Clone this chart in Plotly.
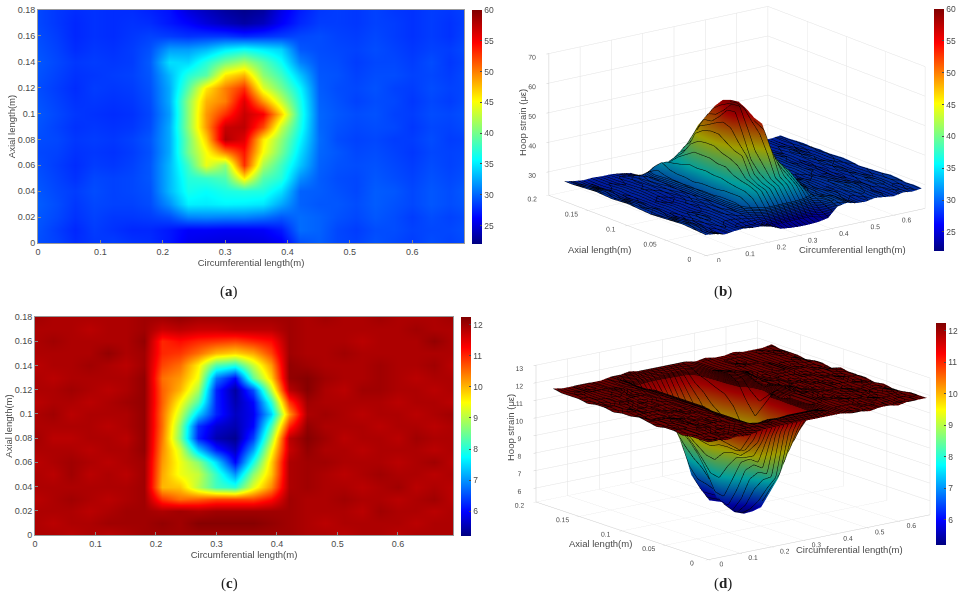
import plotly.graph_objects as go

circ_length = [0.00, 0.03, 0.06, 0.09, 0.12, 0.15, 0.18, 0.21, 0.24, 0.27, 0.30, 0.33,
               0.36, 0.39, 0.42, 0.45, 0.48, 0.51, 0.54, 0.57, 0.60, 0.63, 0.66, 0.69]
axial_length = [0.00, 0.01, 0.02, 0.03, 0.04, 0.05, 0.06, 0.07, 0.08, 0.09,
                0.10, 0.11, 0.12, 0.13, 0.14, 0.15, 0.16, 0.17, 0.18]

# hoop strain, one row per axial station, first row at axial length 0
strain_top = [
    [29.0, 28.6, 27.8, 28.2, 28.4, 28.0, 27.8, 27.0, 25.6, 25.2, 25.0, 25.0, 25.2, 25.8, 29.0, 29.6, 28.8, 28.6, 29.2, 28.8, 28.4, 29.0, 28.6, 29.0],
    [29.2, 28.4, 27.6, 28.4, 28.0, 27.6, 27.6, 27.0, 26.0, 26.0, 25.8, 25.8, 26.0, 27.0, 30.2, 29.8, 28.8, 28.4, 29.0, 29.0, 28.6, 28.8, 28.8, 29.2],
    [29.4, 28.8, 28.0, 28.6, 28.2, 28.2, 28.4, 29.0, 31.0, 31.2, 31.0, 31.0, 30.4, 29.4, 30.2, 29.8, 29.2, 28.8, 29.4, 29.0, 28.4, 29.0, 28.6, 29.0],
    [29.6, 29.0, 28.2, 28.8, 28.6, 28.6, 29.0, 31.5, 35.2, 35.0, 35.4, 35.2, 34.8, 32.4, 29.8, 29.4, 29.4, 29.0, 29.6, 29.2, 28.8, 29.4, 29.0, 29.4],
    [29.4, 28.8, 28.4, 29.0, 28.6, 28.8, 29.2, 33.0, 36.4, 35.8, 36.6, 37.0, 36.8, 34.6, 29.8, 29.6, 29.2, 28.8, 29.6, 29.4, 28.8, 29.4, 29.0, 29.6],
    [29.2, 28.6, 28.0, 28.8, 28.6, 28.8, 29.4, 33.0, 37.0, 37.6, 38.6, 45.8, 38.8, 37.0, 31.5, 29.6, 29.0, 28.8, 29.4, 29.0, 28.6, 29.2, 28.8, 29.2],
    [29.0, 28.4, 27.8, 28.4, 28.2, 28.6, 29.4, 33.0, 38.0, 44.4, 41.0, 53.0, 42.0, 38.0, 33.5, 29.8, 29.2, 29.0, 29.2, 28.8, 28.4, 29.0, 28.6, 29.0],
    [28.8, 28.6, 28.0, 28.2, 28.0, 28.4, 29.2, 32.5, 40.0, 45.0, 50.0, 54.0, 45.0, 40.0, 34.5, 30.0, 29.4, 28.8, 29.0, 28.6, 28.2, 28.8, 28.6, 28.8],
    [29.0, 28.8, 28.2, 28.4, 28.2, 28.6, 29.4, 32.5, 40.0, 47.0, 58.0, 56.0, 46.0, 41.0, 35.5, 30.2, 29.0, 28.6, 28.8, 28.4, 28.4, 29.0, 28.4, 28.6],
    [29.2, 28.6, 28.0, 28.2, 28.0, 28.2, 29.0, 32.5, 41.0, 49.0, 57.0, 57.4, 52.0, 43.0, 36.5, 30.0, 29.2, 28.8, 29.0, 28.8, 28.2, 28.8, 28.6, 29.0],
    [29.4, 28.8, 28.2, 28.0, 27.8, 28.0, 28.8, 32.0, 41.0, 49.0, 53.0, 57.0, 55.0, 47.0, 37.0, 30.0, 29.4, 29.0, 29.2, 28.6, 28.4, 29.0, 28.8, 29.2],
    [29.2, 28.6, 28.0, 28.2, 28.0, 28.2, 29.0, 32.5, 41.0, 48.0, 50.0, 56.0, 49.0, 43.0, 36.5, 29.8, 29.2, 28.6, 29.0, 28.8, 28.2, 28.8, 28.4, 29.0],
    [29.0, 28.4, 27.8, 28.4, 28.2, 28.4, 29.2, 32.5, 39.0, 46.0, 50.0, 53.0, 44.0, 40.0, 35.5, 29.6, 29.0, 28.8, 29.2, 28.6, 28.4, 29.0, 28.6, 28.8],
    [29.2, 28.6, 28.0, 28.2, 28.4, 28.6, 29.4, 33.0, 37.0, 39.0, 46.0, 48.0, 41.0, 38.0, 33.5, 29.4, 29.2, 28.6, 29.0, 29.0, 28.6, 28.8, 28.4, 29.0],
    [29.4, 28.8, 28.2, 28.4, 28.2, 28.4, 29.6, 34.5, 34.2, 37.0, 40.0, 42.0, 39.0, 36.0, 31.0, 29.2, 29.0, 28.4, 28.8, 28.8, 28.4, 29.0, 28.2, 28.8],
    [29.2, 28.6, 27.8, 28.2, 28.0, 28.4, 29.2, 32.0, 32.0, 33.0, 35.0, 36.0, 35.0, 34.0, 29.4, 29.0, 28.8, 28.6, 29.0, 28.6, 28.2, 28.6, 28.4, 29.0],
    [29.0, 28.4, 27.6, 28.0, 27.8, 28.2, 28.6, 28.4, 28.0, 28.2, 28.2, 27.6, 28.0, 28.4, 28.8, 29.0, 28.6, 28.4, 28.8, 28.4, 28.0, 28.4, 28.0, 28.8],
    [28.8, 28.2, 27.6, 28.0, 27.8, 28.0, 27.8, 27.0, 26.2, 25.0, 24.0, 23.2, 24.0, 26.0, 27.6, 28.4, 28.4, 28.2, 28.6, 28.4, 28.0, 28.4, 28.0, 28.6],
    [28.8, 28.2, 27.8, 28.0, 27.8, 27.8, 27.4, 26.8, 25.0, 24.0, 23.0, 22.4, 23.0, 25.4, 27.2, 28.2, 28.4, 28.2, 28.6, 28.2, 28.0, 28.4, 28.2, 28.6],
]

strain_bottom = [
    [11.9, 11.9, 11.8, 11.9, 11.8, 11.9, 12.0, 12.0, 12.0, 12.0, 12.0, 12.0, 12.0, 12.0, 12.0, 11.9, 11.9, 11.8, 11.9, 11.9, 11.8, 11.9, 11.9, 11.9],
    [11.9, 11.8, 11.9, 11.9, 12.0, 12.0, 12.0, 12.1, 12.0, 12.2, 12.2, 12.2, 12.2, 12.1, 12.0, 11.9, 11.8, 11.9, 11.9, 11.9, 11.9, 11.8, 11.9, 11.9],
    [11.9, 11.9, 11.9, 11.8, 11.9, 12.0, 12.0, 11.9, 12.0, 11.9, 12.0, 12.0, 12.0, 12.0, 12.0, 11.9, 11.9, 11.9, 11.8, 12.0, 11.9, 11.9, 11.8, 11.9],
    [11.8, 11.9, 12.0, 11.9, 11.8, 11.9, 12.0, 10.9, 10.5, 10.6, 10.8, 10.8, 10.8, 11.2, 12.0, 11.9, 11.9, 12.0, 11.9, 11.9, 11.8, 11.9, 12.0, 11.8],
    [11.9, 11.9, 11.9, 11.9, 11.9, 11.9, 12.0, 10.0, 9.9, 9.0, 8.2, 8.0, 9.3, 10.3, 11.9, 12.0, 11.9, 11.9, 11.8, 11.9, 12.0, 11.8, 11.9, 11.8],
    [11.9, 11.8, 12.0, 11.8, 11.9, 11.8, 12.0, 10.1, 9.4, 9.1, 8.1, 7.0, 8.7, 9.9, 11.9, 12.0, 11.9, 11.8, 11.9, 12.0, 11.9, 11.9, 11.8, 11.9],
    [11.8, 11.9, 12.0, 11.9, 11.8, 11.9, 12.0, 10.2, 9.4, 8.7, 7.5, 6.0, 7.9, 9.8, 11.9, 12.0, 12.0, 11.9, 11.9, 11.9, 11.8, 11.9, 12.0, 11.8],
    [11.9, 11.9, 11.9, 11.8, 11.9, 11.9, 12.1, 10.3, 9.2, 7.4, 6.2, 5.6, 7.1, 9.4, 11.7, 12.1, 11.9, 11.9, 11.8, 11.9, 11.9, 11.9, 11.8, 11.9],
    [12.0, 11.8, 11.8, 11.9, 11.9, 11.8, 12.1, 10.4, 8.6, 6.2, 5.5, 5.3, 6.4, 8.8, 11.8, 12.2, 12.0, 11.8, 11.9, 11.9, 11.8, 12.0, 11.9, 11.9],
    [11.9, 11.9, 11.9, 11.9, 11.8, 11.9, 12.1, 10.5, 8.7, 6.3, 5.7, 5.5, 6.0, 8.2, 11.0, 12.1, 11.9, 11.9, 11.9, 11.8, 11.9, 11.9, 11.8, 11.9],
    [11.9, 12.0, 11.8, 11.9, 11.9, 11.9, 12.1, 10.5, 9.1, 7.4, 6.2, 5.6, 5.9, 7.4, 10.2, 11.9, 12.0, 11.9, 11.8, 11.9, 11.9, 11.8, 11.9, 12.0],
    [11.8, 11.9, 11.9, 11.8, 11.9, 12.0, 12.1, 10.6, 9.5, 8.3, 6.2, 5.5, 6.0, 8.0, 10.9, 12.0, 11.9, 11.9, 11.9, 11.9, 11.8, 11.9, 11.9, 11.8],
    [11.9, 11.9, 12.0, 11.9, 11.8, 11.9, 12.1, 10.6, 10.0, 8.9, 6.2, 5.4, 6.5, 9.0, 11.8, 12.2, 11.9, 11.8, 12.0, 12.0, 11.9, 11.9, 11.8, 11.9],
    [11.9, 11.8, 11.9, 11.9, 11.9, 11.9, 12.1, 10.5, 10.2, 9.4, 6.8, 6.0, 8.4, 9.8, 12.1, 12.2, 12.0, 11.9, 11.9, 12.0, 11.9, 11.8, 11.9, 11.9],
    [11.8, 11.9, 11.9, 12.0, 11.9, 11.8, 12.0, 10.8, 10.5, 9.6, 8.3, 8.0, 9.1, 10.2, 12.1, 12.0, 11.9, 11.9, 11.9, 12.0, 11.9, 11.9, 12.0, 11.8],
    [11.9, 11.9, 11.9, 11.9, 12.1, 11.9, 12.0, 11.0, 10.9, 10.5, 10.0, 9.8, 10.1, 10.8, 12.0, 11.9, 11.9, 12.0, 11.9, 11.9, 11.9, 11.9, 11.9, 11.9],
    [11.9, 12.0, 11.9, 11.9, 11.9, 11.9, 12.1, 11.0, 11.2, 11.0, 10.9, 10.8, 11.0, 11.2, 12.0, 11.9, 11.9, 11.9, 11.8, 11.9, 11.9, 11.9, 12.1, 11.9],
    [11.9, 11.9, 11.9, 11.8, 11.9, 11.9, 12.0, 11.7, 11.8, 11.7, 11.7, 11.8, 11.8, 11.8, 12.0, 11.9, 11.9, 11.9, 11.9, 11.9, 11.9, 12.0, 11.9, 11.9],
    [12.0, 11.9, 11.9, 11.9, 11.9, 11.9, 12.0, 12.0, 12.1, 12.0, 12.0, 12.0, 12.0, 12.0, 12.0, 11.9, 12.0, 11.9, 11.9, 12.0, 11.9, 11.9, 11.9, 12.0],
]

x_ticks = [0, 0.1, 0.2, 0.3, 0.4, 0.5, 0.6]
y_ticks_flat = [0, 0.02, 0.04, 0.06, 0.08, 0.1, 0.12, 0.14, 0.16, 0.18]
y_ticks_3d = [0, 0.05, 0.1, 0.15, 0.2]
z_ticks_top = [30, 40, 50, 60, 70]
z_ticks_bottom = [6, 7, 8, 9, 10, 11, 12, 13]
cbar_ticks_top = [25, 30, 35, 40, 45, 50, 55, 60]
cbar_ticks_bottom = [6, 7, 8, 9, 10, 11, 12]

JET = [
    [0.0, "rgb(0,0,128)"], [0.11, "rgb(0,0,255)"], [0.36, "rgb(0,255,255)"],
    [0.61, "rgb(255,255,0)"], [0.86, "rgb(255,0,0)"], [1.0, "rgb(128,0,0)"],
]
W, H = 960, 599
TEXT = "#4a4a4a"
FONT = "Liberation Sans"
LIGHT = dict(x=-1000, y=-1000, z=100)
SHADE = dict(ambient=0.62, diffuse=1.0, specular=0.03, roughness=0.2, fresnel=0.05)


def px_x(v):
    return v / W


def px_y(v):
    return 1 - v / H


def bar(left, top, bottom, ticks):
    return dict(
        x=px_x(left), xanchor="left", xpad=0, y=px_y(top), yanchor="top", ypad=0,
        len=(bottom - top) / H, lenmode="fraction", thickness=10, thicknessmode="pixels",
        tickvals=ticks, ticks="inside", ticklen=2, tickcolor=TEXT,
        tickfont=dict(size=8.5, color=TEXT, family=FONT), outlinewidth=0,
    )


def axis_3d(ticks, rng, ticklen=3):
    return dict(
        title=dict(text=""),
        tickvals=ticks, range=rng, tickangle=0, tickfont=dict(size=9, color=TEXT, family=FONT),
        gridcolor="#e2e2e2", gridwidth=1, showbackground=False, zeroline=False,
        showspikes=False, linecolor="#cccccc", ticks="outside", ticklen=ticklen, tickcolor="#cccccc",
    )


fig = go.Figure()

# flat maps
fig.add_heatmap(
    x=circ_length, y=axial_length, z=strain_top, zsmooth="best", colorscale=JET, zmin=22, zmax=60,
    xaxis="x", yaxis="y", colorbar=bar(472, 10, 244, cbar_ticks_top),
)
fig.add_heatmap(
    x=circ_length, y=axial_length, z=strain_bottom, zsmooth="best", colorscale=JET, zmin=5.2, zmax=12.25,
    xaxis="x2", yaxis="y2", colorbar=bar(461, 317, 536, cbar_ticks_bottom),
)

# surfaces
fig.add_surface(
    x=circ_length, y=axial_length, z=strain_top, colorscale=JET, cmin=22, cmax=60, scene="scene",
    colorbar=bar(934, 9, 251, cbar_ticks_top),
    contours=dict(
        x=dict(show=True, start=0, end=0.69, size=0.014, color="black", width=1),
        z=dict(show=True, start=26, end=31, size=0.4, color="black", width=1),
    ),
    lighting=SHADE, lightposition=LIGHT,
)
fig.add_surface(
    x=circ_length, y=axial_length, z=strain_bottom, colorscale=JET, cmin=5.2, cmax=12.25, scene="scene2",
    colorbar=bar(936, 323, 545, cbar_ticks_bottom),
    contours=dict(
        x=dict(show=True, start=0, end=0.69, size=0.014, color="black", width=1),
        z=dict(show=True, start=11.6, end=12.25, size=0.05, color="black", width=1),
    ),
    lighting=SHADE, lightposition=LIGHT,
)

flat_axis = dict(
    ticks="inside", ticklen=3, tickcolor="#888888", showline=True, linecolor="#999999", linewidth=1,
    mirror=True, showgrid=False, zeroline=False, tickfont=dict(size=9, color=TEXT, family=FONT),
)
title_font = dict(size=9.5, color=TEXT, family=FONT)
fig.update_layout(
    width=W, height=H, margin=dict(l=0, r=0, t=0, b=0, autoexpand=False),
    paper_bgcolor="white", plot_bgcolor="white", showlegend=False,
    xaxis=dict(flat_axis, domain=[px_x(38), px_x(464)], range=[0, 0.683], tickvals=x_ticks, anchor="y",
               title=dict(text="Circumferential length(m)", font=title_font, standoff=2)),
    yaxis=dict(flat_axis, domain=[px_y(243), px_y(10)], range=[0, 0.18], tickvals=y_ticks_flat, anchor="x",
               title=dict(text="Axial length(m)", font=title_font, standoff=0)),
    xaxis2=dict(flat_axis, domain=[px_x(35), px_x(453)], range=[0, 0.691], tickvals=x_ticks, anchor="y2",
                title=dict(text="Circumferential length(m)", font=title_font, standoff=2)),
    yaxis2=dict(flat_axis, domain=[px_y(535), px_y(317)], range=[0, 0.18], tickvals=y_ticks_flat, anchor="x2",
                title=dict(text="Axial length(m)", font=title_font, standoff=0)),
    scene=dict(
        domain=dict(x=[px_x(517), px_x(957)], y=[px_y(262), px_y(0)]),
        xaxis=axis_3d(x_ticks, [0, 0.7]),
        yaxis=axis_3d(y_ticks_3d, [0, 0.2]),
        zaxis=axis_3d(z_ticks_top, [22, 70]),
        aspectmode="manual", aspectratio=dict(x=2.09, y=2.0, z=1.13),
        camera=dict(projection=dict(type="orthographic"), eye=dict(x=-0.96, y=-1.28, z=0.48),
                    up=dict(x=0, y=0, z=1)),
    ),
    scene2=dict(
        domain=dict(x=[px_x(513), px_x(953)], y=[px_y(570), px_y(310)]),
        xaxis=axis_3d(x_ticks, [0, 0.7]),
        yaxis=axis_3d(y_ticks_3d, [0, 0.2]),
        zaxis=axis_3d(z_ticks_bottom, [5.2, 13], ticklen=1),
        aspectmode="manual", aspectratio=dict(x=2.16, y=2.16, z=1.09),
        camera=dict(projection=dict(type="orthographic"), eye=dict(x=-0.98, y=-1.26, z=0.43),
                    up=dict(x=0, y=0, z=1)),
    ),
)

for label, cx, cy in [("a", 229, 291), ("b", 723, 291), ("c", 229, 583), ("d", 723, 583)]:
    fig.add_annotation(
        text=f"(<b>{label}</b>)", x=px_x(cx), y=px_y(cy), xref="paper", yref="paper", showarrow=False,
        xanchor="center", yanchor="middle", font=dict(size=15, color="#222222", family="Liberation Serif"),
    )

# 3d axis titles sit horizontally in the reference, so they are placed by hand
for text, cx, cy, angle in [
    ("Axial length(m)", 599, 249, 0), ("Circumferential length(m)", 852, 249, 0), ("Hoop strain (με)", 522, 123, -90),
    ("Axial length(m)", 600, 543, 0), ("Circumferential length(m)", 849, 549, 0), ("Hoop strain (με)", 510, 428, -90),
]:
    fig.add_annotation(
        text=text, x=px_x(cx), y=px_y(cy), xref="paper", yref="paper", showarrow=False, textangle=angle,
        xanchor="center", yanchor="middle", font=title_font,
    )

fig.write_html("out.html", post_script="document.body.style.margin='0';", config=dict(displayModeBar=False))
